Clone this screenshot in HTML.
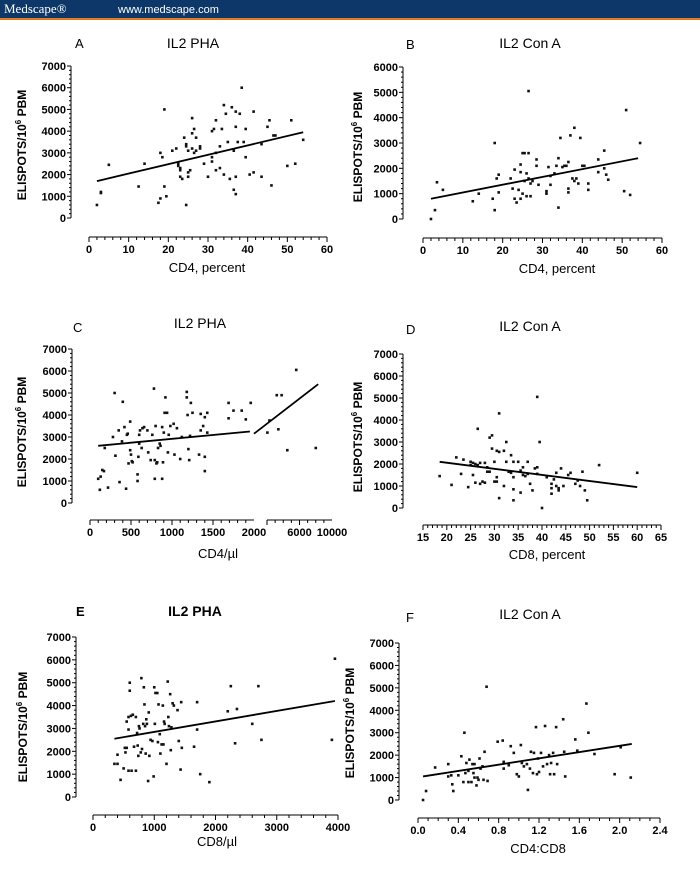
<!DOCTYPE html>
<html><head><meta charset="utf-8"><style>
html,body{margin:0;padding:0;background:#fff}
svg{display:block}
text{font-family:"Liberation Sans",Arial,sans-serif;fill:#000}
.tk{font-size:11px;font-weight:bold}
.ttl{font-size:14px}
.lab{font-size:13px}
.yl{font-size:12px;font-weight:bold}
</style></head><body>
<svg id="fig" width="700" height="874" viewBox="0 0 700 874" xmlns="http://www.w3.org/2000/svg">
<rect x="0" y="0" width="700" height="18" fill="#0c3768"/>
<rect x="0" y="18" width="700" height="2" fill="#e07b22"/>
<text x="4" y="13" style="font-family:'Liberation Serif',serif;font-size:13px;fill:#fff">Medscape®</text>
<text x="118" y="13" style="font-size:11px;fill:#fff">www.medscape.com</text>
</svg>
<script>
// ---- Panel A data: IL2 PHA vs CD4 percent
const aX=[2,3,3,5,12.5,14,17.5,18,18,19,19,19.5,18.5,21,22,22.5,22.5,23,23,23.5,23,24,24.5,24.5,24.5,25,25,25,25.5,26,26,26,26.5,26.5,27,27,28,28,29,30,31,31,31,31.5,32,32,32,33,33,33.5,34,34,34.5,35,35.5,36,36.5,36.5,37,37,37,37,37.5,38,38.5,39,39.5,39.5,40.5,41.5,41.5,43.5,43.5,45,45.5,46,46.5,47,50,51,52,54];
const aY=[600,1200,1150,2450,1450,2500,700,900,3000,5000,1450,1000,2800,3100,3200,2500,2400,2300,1900,1800,2200,3700,3400,3300,600,2100,1900,3100,2200,4600,3900,3200,4100,3000,3700,3100,3300,3200,2500,1900,4000,2800,2600,4100,4500,2200,3000,3300,2300,4100,5200,2000,4800,3500,1800,5100,1300,3100,1100,4900,4200,1900,3500,4800,6000,3500,2800,4100,2000,4900,2100,3400,1900,4200,4500,1500,3800,3800,2400,4500,2500,3600];
const aLine=[[2,1700],[54,3950]];
// ---- Panel B data: IL2 Con A vs CD4 percent
const bX=[2,3,3.5,5,12.5,14,17.5,18,18,18.5,19,19,22,22.5,23,23,23.5,24,24.5,24.5,24.5,25,25,25.5,25.5,26,26,26.5,26.5,26.5,27,27,27.5,28.5,28.5,29,31,31,31.5,32,32,33,33.5,34,34,34.5,35,35.5,36,36.5,36.5,36.5,37,37.5,38,38,38.5,39,39.5,40,40.5,41.5,41.5,44,44,45.5,45.5,46,46.5,50.5,51,52,54.5];
const bY=[0,350,1450,1150,700,1000,800,3000,350,1600,1750,1050,1600,1200,1950,800,650,1150,2150,1850,800,2600,1000,2600,1500,1800,900,5050,2600,1600,1400,900,1500,2350,2100,1350,1100,1000,2050,1350,1700,1800,2100,2400,450,3200,2050,2100,2100,2250,1050,1200,3300,1600,3600,1500,1600,1400,3200,2100,2100,1400,1150,2350,1850,2000,2700,1750,1550,1100,4300,950,3000];
const bLine=[[2,800],[54,2400]];
// ---- Panel C data: IL2 PHA vs CD4/ul (broken axis)
const cX=[100,120,130,150,170,180,220,280,300,310,350,360,390,400,420,440,450,460,470,490,490,500,510,520,580,580,590,600,600,610,630,640,660,700,710,740,760,780,790,790,800,810,820,830,850,860,880,880,890,900,910,920,940,950,960,980,1020,1030,1060,1100,1120,1180,1180,1190,1200,1210,1220,1230,1250,1330,1350,1350,1380,1400,1400,1400,1430,1430,1690,1690,1750,1850,1900,1960,2050,2300,3200,3400,3800,4500,5600,8000];
const cY=[1100,600,1200,1500,1450,2500,700,3000,5000,2150,3300,950,2800,4600,3450,650,3100,3150,1800,3700,2400,2200,1900,1850,1300,1000,2100,2700,3100,3300,2500,3400,3450,3300,2300,1950,3100,5200,1100,1950,3500,1800,1850,2500,2700,2600,1100,3450,1850,3200,4100,4800,4100,2300,3100,3500,3600,2200,3400,2000,3000,5050,4800,4000,2450,1950,3050,4550,4100,2200,4050,3300,3500,2100,3900,1450,3200,4100,4550,3850,4200,4200,3800,4550,3200,3750,4900,3350,4900,2400,6050,2500];
const cLineLow=[[100,2600],[1950,3250]];
const cLineHigh=[[2000,3150],[8300,5400]];
// ---- Panel D data: IL2 Con A vs CD8 percent
const dX=[18.5,21,22,23,23.5,24.5,25,25,25.5,25.5,26,26,26.5,26.5,27,27,27.5,28,28,28.5,28.5,29,29,29.5,29.5,30,30,30.5,30.5,30.5,31,31,31,32,32,32.5,32.5,33,33.5,33.5,34,34,34,34,35,35.5,35.5,36,36,36.5,37,37,37.5,38,38.5,39,39,39,39.5,40,41,42,42,42,42.5,43,43,43.5,43.5,44,44.5,45.5,46,47,47.5,48,48.5,49,49.5,52,60];
const dY=[1450,1050,2300,1550,2200,950,1950,2100,2050,1500,2000,1150,3600,1950,1100,2050,1200,1150,2050,1650,1850,3200,1650,3300,2700,2100,1200,1200,2600,1400,2550,4300,450,2600,1000,2100,3000,1650,1600,2400,2100,1400,850,350,2100,1700,700,1500,1850,1450,2100,1550,1100,800,1800,5050,1550,1850,3000,0,1400,1100,900,650,1300,1600,1000,800,900,1800,1000,1500,1600,1100,1250,1000,1650,800,350,1950,1600];
const dLine=[[18.5,2100],[60,950]];
// ---- Panel E data: IL2 PHA vs CD8/ul
const eX=[350,400,400,450,500,520,530,550,550,580,580,580,600,600,620,630,650,670,700,700,720,730,740,750,760,780,790,800,820,830,840,850,860,870,880,900,910,920,940,970,990,1000,1010,1020,1050,1060,1070,1090,1100,1120,1140,1150,1160,1170,1200,1220,1230,1240,1260,1270,1280,1300,1320,1380,1400,1430,1440,1450,1650,1700,1700,1750,1900,2200,2250,2320,2350,2600,2700,2750,3900,3950];
const eY=[1450,1450,1850,750,1250,2150,1950,3300,2150,3500,1150,2950,4650,5000,3550,1150,3600,2200,3500,1150,2800,2250,1800,3100,3000,1950,5200,2100,3200,4800,4050,3100,1900,3400,3200,700,3700,1800,2500,2450,900,4800,3200,4550,4550,2400,4050,2750,1900,2300,4000,2300,3300,3200,1450,5050,3500,3100,4500,2050,3050,4100,4000,3800,2450,1200,4150,2150,2200,2950,4150,1000,650,3750,4850,2350,3850,3200,4850,2500,2500,6050];
const eLine=[[350,2550],[3950,4200]];
// ---- Panel F data: IL2 Con A vs CD4:CD8
const fX=[0.05,0.08,0.17,0.3,0.3,0.33,0.34,0.35,0.4,0.43,0.45,0.46,0.47,0.48,0.5,0.5,0.51,0.53,0.54,0.55,0.56,0.56,0.58,0.59,0.6,0.61,0.62,0.64,0.65,0.66,0.68,0.69,0.79,0.84,0.85,0.85,0.9,0.92,0.95,0.98,1.0,1.02,1.03,1.05,1.08,1.09,1.11,1.12,1.14,1.15,1.17,1.18,1.19,1.2,1.22,1.24,1.26,1.28,1.3,1.31,1.32,1.34,1.35,1.37,1.38,1.44,1.45,1.46,1.56,1.58,1.67,1.69,1.75,1.95,2.01,2.11];
const fY=[0,400,1450,1600,1050,1100,700,400,1100,1950,800,3000,1200,1650,800,1300,1800,800,1600,1200,1000,1600,650,1000,900,1850,1400,1500,900,2150,5050,850,2600,2650,1700,1400,1550,2400,2100,1150,1050,2450,1650,1500,1600,450,1400,2150,1200,2100,3250,1150,1850,1250,2100,1500,3300,1600,2000,1150,1650,2100,1150,3250,1600,3600,2150,1050,2700,2200,4300,3000,2050,1150,2350,1000];
const fLine=[[0.05,1050],[2.12,2500]];

const NS='http://www.w3.org/2000/svg';
const svg=document.getElementById('fig');
function mk(tag,attrs,parent){const e=document.createElementNS(NS,tag);for(const k in attrs)e.setAttribute(k,attrs[k]);(parent||svg).appendChild(e);return e;}
function txt(s,attrs,parent){const e=mk('text',attrs,parent);e.textContent=s;return e;}

function panel(p){
  const g=mk('g',{});
  
  
  const ys=v=>p.yb+(p.yt-p.yb)*v/p.ymax;
  const xs=p.xs||(v=>p.x0+(p.x1-p.x0)*(v-p.xmin)/(p.xmax-p.xmin));
  // panel letter & title
  const L=txt(p.id.toUpperCase(),{x:p.lx,y:p.ly,'class':'lab','font-weight':p.bold?'bold':'normal','font-size':'14'},g);
  
  
  const T=txt(p.title,{x:p.tx,y:p.ty,'class':'ttl','text-anchor':'middle','font-weight':p.bold?'bold':'normal'},g);
  
  
  // y axis
  const ya=mk('g',{},g);
  
  
  mk('line',{x1:p.ax,y1:ys(0),x2:p.ax,y2:ys(p.ymax),stroke:'#000','stroke-width':1},ya);
  for(let v=0;v<=p.ymax+1;v+=200){mk('line',{x1:p.ax-(v%1000===0?4:2),y1:ys(v),x2:p.ax,y2:ys(v),stroke:'#000','stroke-width':1},ya);}
  for(let v=0;v<=p.ymax;v+=1000){const t=txt(String(v),{x:p.ax-5,y:ys(v)+4,'class':'tk','text-anchor':'end'},ya);
    
    }
  const yl=txt('',{x:0,y:0,'class':'yl','text-anchor':'middle',transform:`translate(${p.ylx},${p.yly}) rotate(-90)`},g);
  
  
  yl.appendChild(document.createTextNode('ELISPOTS/10'));
  const sup=mk('tspan',{dy:-5,'font-size':'8'},yl);sup.textContent='6';
  const rest=mk('tspan',{dy:5},yl);rest.textContent=' PBM';
  // x axis
  const xa=mk('g',{},g);
  
  
  p.segs.forEach(s=>{
    mk('line',{x1:xs(s.a),y1:p.xay,x2:xs(s.b),y2:p.xay,stroke:'#000','stroke-width':1},xa);
    for(let v=s.a;v<=s.b+1e-9;v+=s.minor){const maj=Math.abs(Math.round((v-s.a)/s.major)*s.major-(v-s.a))<1e-6;
      mk('line',{x1:xs(v),y1:p.xay,x2:xs(v),y2:p.xay+(maj?5:3),stroke:'#000','stroke-width':1},xa);}
  });
  p.xticks.forEach((v,i)=>{const t=txt(p.xtl[i],{x:xs(v),y:p.xay+16,'class':'tk','text-anchor':'middle'},xa);
    
    });
  const xl=txt(p.xlabel,{x:p.xlx,y:p.xly,'class':'lab','text-anchor':'middle'},g);
  
  
  // points
  p.X.forEach((v,i)=>{const c=mk('rect',{x:xs(v)-1.3,y:ys(p.Y[i])-1.3,width:2.6,height:2.6,fill:'#111'},g);
    
    });
  p.lines.forEach(l=>{const ln=mk('line',{x1:xs(l[0][0]),y1:ys(l[0][1]),x2:xs(l[1][0]),y2:ys(l[1][1]),stroke:'#000','stroke-width':1.8},g);
    
    });
}

panel({id:'a',title:'IL2 PHA',lx:75,ly:48,tx:193,ty:48,ax:71,yt:66,yb:218,ymax:7000,ylx:26,yly:145,
  x0:89,x1:327,xmin:0,xmax:60,xay:237,segs:[{a:0,b:60,major:10,minor:2}],xticks:[0,10,20,30,40,50,60],xtl:['0','10','20','30','40','50','60'],
  xlabel:'CD4, percent',xlx:207,xly:272,X:aX,Y:aY,lines:[aLine]});
panel({id:'b',title:'IL2 Con A',lx:406,ly:49,tx:530,ty:48,ax:403,yt:67,yb:219,ymax:6000,ylx:362,yly:147,
  x0:423,x1:662,xmin:0,xmax:60,xay:238,segs:[{a:0,b:60,major:10,minor:2}],xticks:[0,10,20,30,40,50,60],xtl:['0','10','20','30','40','50','60'],
  xlabel:'CD4, percent',xlx:557,xly:273,X:bX,Y:bY,lines:[bLine]});
const cxs=v=>v<=2000?90+v*(254-90)/2000:267+(v-2000)*(332-267)/8000;
panel({id:'c',title:'IL2 PHA',lx:73,ly:332,tx:200,ty:328,ax:72,yt:349,yb:503,ymax:7000,ylx:26,yly:432,
  xs:cxs,xay:520,segs:[{a:0,b:1999,major:500,minor:100},{a:2001,b:10000,major:4000,minor:1000}],xticks:[0,500,1000,1500,2000,6000,10000],xtl:['0','500','1000','1500','2000','6000','10000'],
  xlabel:'CD4/µl',xlx:218,xly:558,X:cX,Y:cY,lines:[cLineLow,cLineHigh]});
panel({id:'d',title:'IL2 Con A',lx:406,ly:334,tx:530,ty:331,ax:403,yt:354,yb:508,ymax:7000,ylx:362,yly:437,
  x0:423,x1:661,xmin:15,xmax:65,xay:525,segs:[{a:15,b:65,major:5,minor:1}],xticks:[15,20,25,30,35,40,45,50,55,60,65],xtl:['15','20','25','30','35','40','45','50','55','60','65'],
  xlabel:'CD8, percent',xlx:547,xly:559,X:dX,Y:dY,lines:[dLine]});
panel({id:'e',title:'IL2 PHA',bold:true,lx:76,ly:616,tx:195,ty:616,ax:76,yt:637,yb:797,ymax:7000,ylx:27,yly:727,
  x0:93,x1:338,xmin:0,xmax:4000,xay:815,segs:[{a:0,b:4000,major:1000,minor:200}],xticks:[0,1000,2000,3000,4000],xtl:['0','1000','2000','3000','4000'],
  xlabel:'CD8/µl',xlx:217,xly:846,X:eX,Y:eY,lines:[eLine]});
panel({id:'f',title:'IL2 Con A',lx:406,ly:622,tx:530,ty:619,ax:399,yt:643,yb:800,ymax:7000,ylx:354,yly:723,
  x0:418,x1:660,xmin:0,xmax:2.4,xay:818,segs:[{a:0,b:2.4,major:0.4,minor:0.1}],xticks:[0,0.4,0.8,1.2,1.6,2.0,2.4],xtl:['0.0','0.4','0.8','1.2','1.6','2.0','2.4'],
  xlabel:'CD4:CD8',xlx:538,xly:853,X:fX,Y:fY,lines:[fLine]});
</script>
</body></html>
